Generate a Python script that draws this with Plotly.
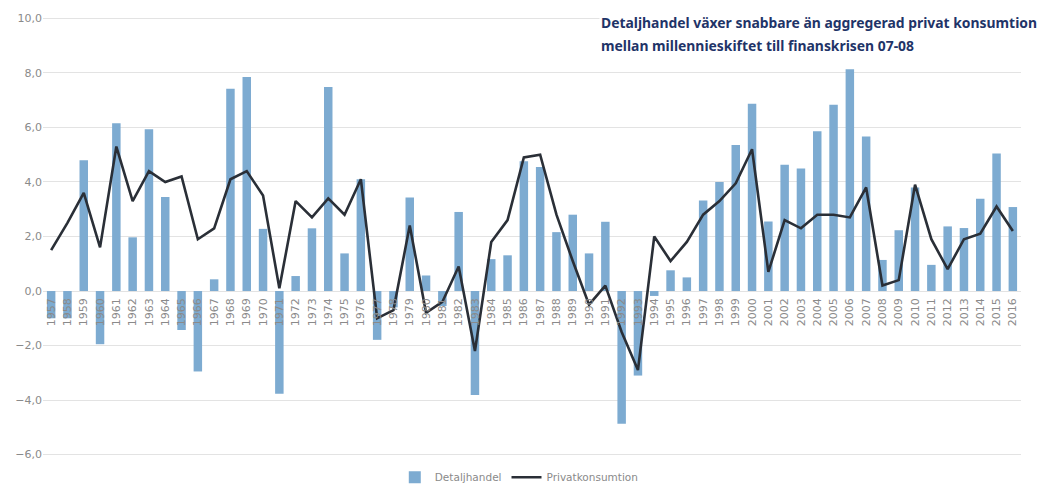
import plotly.graph_objects as go

years = [str(y) for y in range(1957, 2017)]

detaljhandel = [
    -1.0, -1.0, 4.8, -1.95, 6.15, 1.97, 5.93, 3.45, -1.43, -2.95,
    0.43, 7.42, 7.85, 2.28, -3.77, 0.55, 2.3, 7.48, 1.38, 4.1,
    -1.79, -0.6, 3.43, 0.57, -0.55, 2.9, -3.81, 1.17, 1.31, 4.76,
    4.55, 2.16, 2.8, 1.38, 2.54, -4.87, -3.1, -0.18, 0.76, 0.5,
    3.32, 4.0, 5.36, 6.87, 2.55, 4.63, 4.49, 5.86, 6.83, 8.13,
    5.67, 1.14, 2.23, 3.8, 0.96, 2.37, 2.31, 3.38, 5.04, 3.08,
]

privatkonsumtion = [
    1.5, 2.5, 3.6, 1.6, 5.3, 3.3, 4.4, 4.0, 4.2, 1.9,
    2.3, 4.1, 4.4, 3.5, 0.1, 3.3, 2.7, 3.4, 2.8, 4.1,
    -1.0, -0.7, 2.4, -0.8, -0.4, 0.9, -2.2, 1.8, 2.6, 4.9,
    5.0, 2.8, 1.1, -0.5, 0.2, -1.5, -2.9, 2.0, 1.1, 1.8,
    2.8, 3.3, 3.95, 5.2, 0.7, 2.6, 2.3, 2.8, 2.8, 2.7,
    3.8, 0.2, 0.4, 3.9, 1.9, 0.8, 1.9, 2.1, 3.1, 2.2,
]

y_ticks = [-6, -4, -2, 0, 2, 4, 6, 8, 10]
title_line1 = "Detaljhandel växer snabbare än aggregerad privat konsumtion"
title_line2 = "mellan millennieskiftet till finanskrisen 07-08"

y_min, y_max = -6.05, 10.05

fig = go.Figure()
fig.add_trace(go.Bar(
    x=years, y=detaljhandel, name="Detaljhandel",
    marker=dict(color="#7DABD1", line=dict(width=0)),
))
fig.add_trace(go.Scatter(
    x=years, y=privatkonsumtion, name="Privatkonsumtion", mode="lines",
    line=dict(color="#2A2F37", width=2.6),
))

zero_pos = (0 - y_min) / (y_max - y_min)
tick_font = dict(family="DejaVu Sans, sans-serif", size=11, color="#8A8A8A")
title_font = dict(family="Noto Sans, sans-serif", size=13.9, color="#1F3468", weight="bold")

fig.update_layout(
    width=1042, height=484,
    margin=dict(l=43, r=21, t=17, b=28, autoexpand=False),
    paper_bgcolor="white", plot_bgcolor="white",
    bargap=0.48,
    separators=", ",
    font=dict(family="DejaVu Sans, sans-serif", color="#8A8A8A", size=11),
    showlegend=True,
    legend=dict(orientation="h", x=0.487, xanchor="center",
                yref="container", y=0.014, yanchor="middle",
                font=dict(family="DejaVu Sans, sans-serif", size=10.5, color="#8A8A8A"),
                itemwidth=30, traceorder="normal"),
    xaxis=dict(
        type="category", anchor="free", position=zero_pos, automargin=False,
        tickangle=-90, showgrid=False, showline=False, ticks="",
        tickfont=tick_font, fixedrange=True, ticklabelstandoff=4,
    ),
    yaxis=dict(
        range=[y_min, y_max], tickvals=y_ticks, tickformat=".1f", automargin=False,
        showgrid=True, gridcolor="#E3E3E3", gridwidth=1,
        zeroline=False, showline=False, ticks="",
        tickfont=tick_font,
    ),
    annotations=[
        dict(text=title_line1, xref="paper", yref="paper",
             x=0.5685, y=0.9886, xanchor="left", yanchor="middle", align="left",
             showarrow=False, bgcolor="white", borderpad=1, font=title_font),
        dict(text=title_line2, xref="paper", yref="paper",
             x=0.5685, y=0.934, xanchor="left", yanchor="middle", align="left",
             showarrow=False, borderpad=1, font=title_font),
    ],
)

fig.write_html("out.html", config={"displayModeBar": False},
               post_script="document.body.style.margin='0px';document.body.style.overflow='hidden';")
